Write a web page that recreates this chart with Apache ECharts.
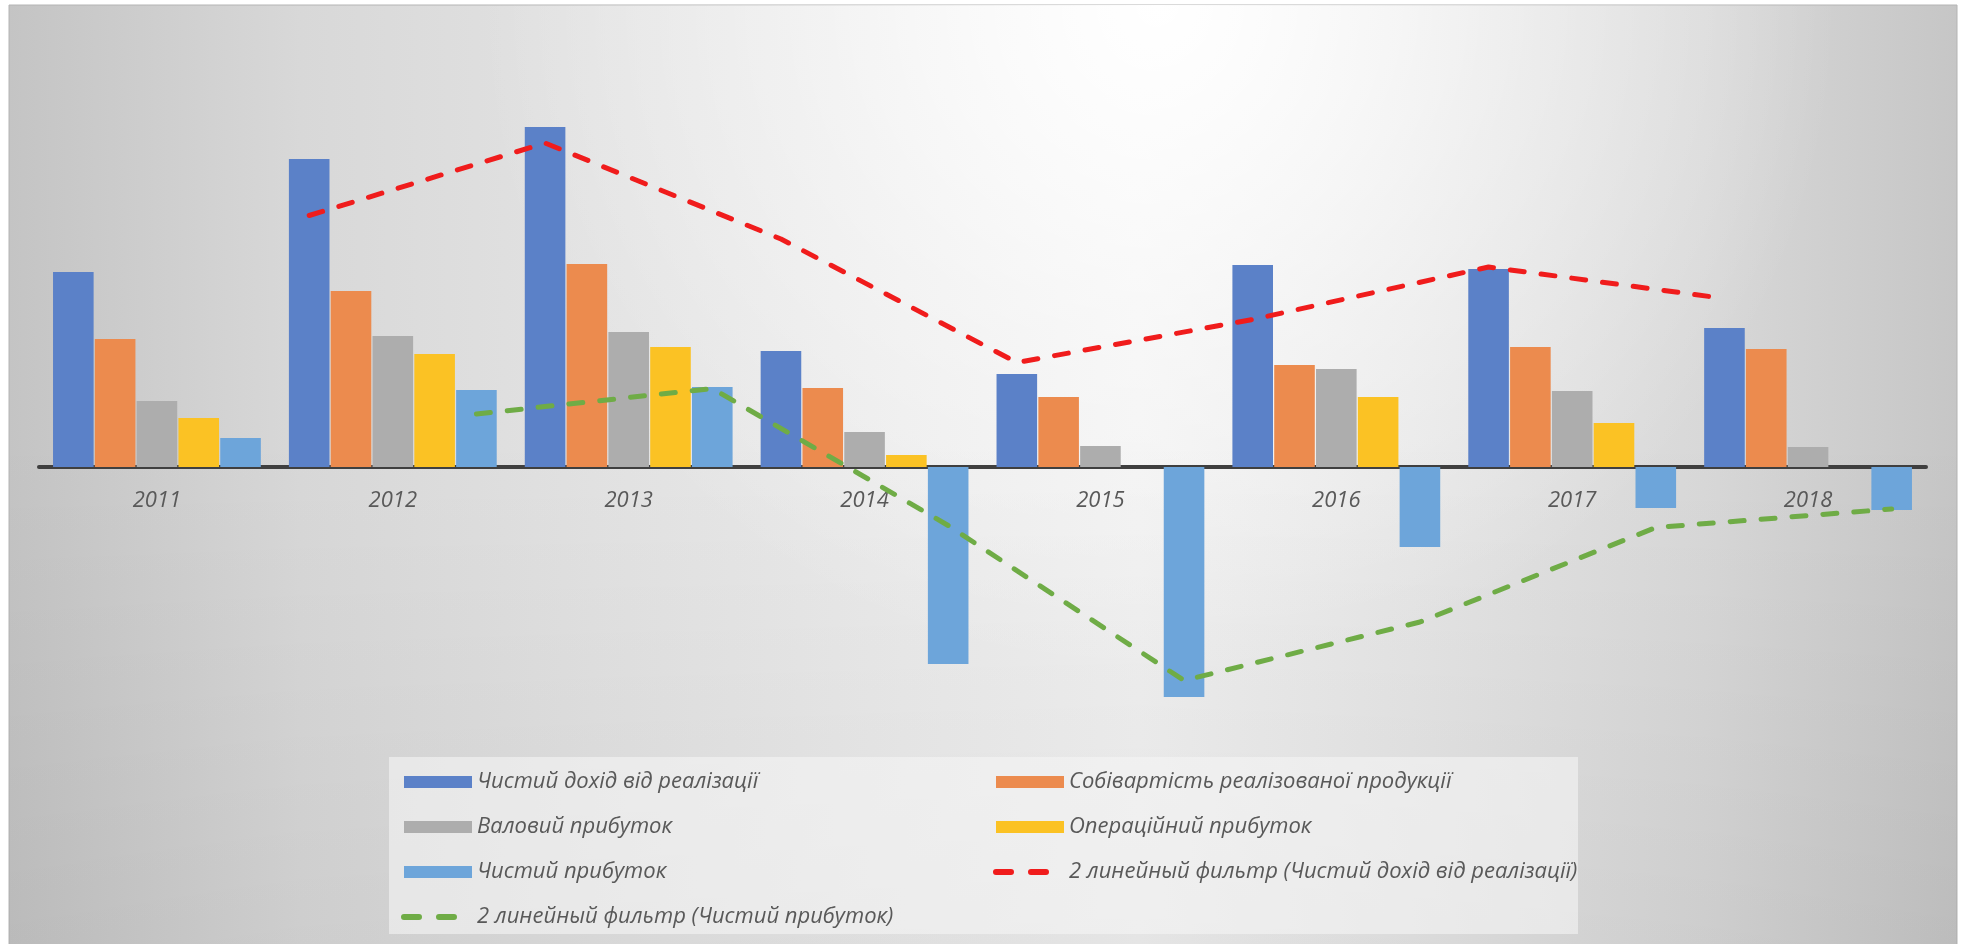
<!DOCTYPE html>
<html>
<head>
<meta charset="utf-8">
<script src="https://cdn.jsdelivr.net/npm/echarts@6/dist/echarts.min.js"></script>
<style>
  html, body { margin: 0; padding: 0; background: #fff; }
  #chart { width: 1961px; height: 944px; }
</style>
</head>
<body>
<div id="chart"></div>
<script>
// Data (arbitrary units, zero at the axis line)
const years = ['2011', '2012', '2013', '2014', '2015', '2016', '2017', '2018'];
const netRevenue = [195, 308, 340, 116, 93, 202, 198, 139];
const costOfSales = [128, 176, 203, 79, 70, 102, 120, 118];
const grossProfit = [66, 131, 135, 35, 21, 98, 76, 20];
const operatingProfit = [49, 113, 120, 12, 0, 70, 44, 0];
const netProfit = [29, 77, 80, -197, -230, -80, -41, -43];
// 2-period moving average trendlines
const revenueFilter = [null, 251.5, 324, 228, 104.5, 147.5, 200, 168.5];
const profitFilter = [null, 53, 78.5, -58.5, -213.5, -155, -60.5, -42];

const names = {
  revenue: 'Чистий дохід від реалізації',
  cost: 'Собівартість реалізованої продукції',
  gross: 'Валовий прибуток',
  operating: 'Операційний прибуток',
  net: 'Чистий прибуток',
  revFilter: '2 линейный фильтр (Чистий дохід від реалізації)',
  netFilter: '2 линейный фильтр (Чистий прибуток)'
};

const colors = ['#5b81c8', '#ec8b4e', '#adadad', '#fbc224', '#6da5da'];
const textColor = '#595959';
const font = 'Open Sans';

// trendline points sit over the first / last bar of each cluster
const catGap = 0.119;
const barGap = 0.03;
const barFrac = (1 - catGap) / (5 + 4 * barGap);
const firstBarCenter = catGap / 2 + barFrac / 2;
const lastBarCenter = catGap / 2 + barFrac * (4 * (1 + barGap) + 0.5);

function trendPoints(values, offset) {
  const pts = [];
  values.forEach((v, i) => {
    if (v !== null) pts.push([i + offset, v]);
  });
  return pts;
}

function barSeries(name, data, color) {
  return {
    name: name,
    type: 'bar',
    data: data,
    barGap: (barGap * 100) + '%',
    barCategoryGap: (catGap * 100).toFixed(1) + '%',
    itemStyle: { color: color }
  };
}

function lineSeries(name, points, color) {
  return {
    name: name,
    type: 'line',
    xAxisIndex: 1,
    data: points,
    symbol: 'none',
    z: 5,
    color: color,
    lineStyle: { color: color, width: 5, type: [14, 17], cap: 'round' }
  };
}

const legendText = { color: textColor, fontFamily: font, fontStyle: 'italic', fontSize: 22, lineHeight: 24 };
const legendDash = { type: [15, 20], width: 6, cap: 'round' };
const noSymbol = { opacity: 0 };

const frame = { x: 9, y: 5, width: 1948, height: 945 };

const chart = echarts.init(document.getElementById('chart'));
chart.setOption({
  animation: false,
  graphic: [
    {
      type: 'rect',
      z: 0,
      silent: true,
      shape: frame,
      style: {
        fill: new echarts.graphic.LinearGradient(0, 0, 1, 0, [
          { offset: 0, color: '#c4c4c4' },
          { offset: 0.15, color: '#d8d8d8' },
          { offset: 0.3, color: '#e2e2e2' },
          { offset: 0.46, color: '#ebebeb' },
          { offset: 0.58, color: '#f1f1f1' },
          { offset: 0.72, color: '#e6e6e6' },
          { offset: 0.87, color: '#d8d8d8' },
          { offset: 1, color: '#c6c6c6' }
        ]),
        stroke: '#b4b4b4',
        lineWidth: 1
      }
    },
    {
      type: 'rect',
      z: 0,
      silent: true,
      shape: frame,
      style: {
        fill: new echarts.graphic.RadialGradient(0.59, 0.0, 0.72, [
          { offset: 0, color: 'rgba(255,255,255,1)' },
          { offset: 0.5, color: 'rgba(255,255,255,0.45)' },
          { offset: 1, color: 'rgba(255,255,255,0)' }
        ])
      }
    },
    {
      type: 'rect',
      z: 0,
      silent: true,
      shape: frame,
      style: {
        fill: new echarts.graphic.LinearGradient(0, 0, 0, 1, [
          { offset: 0, color: 'rgba(0,0,0,0)' },
          { offset: 0.45, color: 'rgba(0,0,0,0)' },
          { offset: 1, color: 'rgba(0,0,0,0.05)' }
        ])
      }
    },
    {
      type: 'rect',
      z: 1,
      silent: true,
      shape: { x: 389, y: 757, width: 1189, height: 177 },
      style: { fill: 'rgba(245,245,245,0.6)' }
    }
  ],
  grid: { left: 39, right: 35, top: 100, height: 640 },
  xAxis: [
    {
      type: 'category',
      data: years,
      position: 'bottom',
      offset: -273,
      axisTick: { show: false },
      axisLine: { onZero: false, lineStyle: { color: '#3f3f3f', width: 4 } },
      axisLabel: { color: textColor, fontFamily: font, fontStyle: 'italic', fontSize: 22, lineHeight: 26, margin: 21 }
    },
    { type: 'value', min: 0, max: years.length, show: false }
  ],
  yAxis: {
    type: 'value',
    min: -273,
    max: 367,
    show: false,
    splitLine: { show: false }
  },
  legend: [
    {
      orient: 'vertical',
      left: 401,
      top: 770,
      padding: 0,
      itemWidth: 68,
      itemHeight: 12,
      itemGap: 21,
      textStyle: legendText,
      data: [
        { name: names.revenue, icon: 'rect' },
        { name: names.gross, icon: 'rect' },
        { name: names.net, icon: 'rect' },
        { name: names.netFilter, lineStyle: legendDash, itemStyle: noSymbol }
      ]
    },
    {
      orient: 'vertical',
      left: 993,
      top: 770,
      padding: 0,
      itemWidth: 68,
      itemHeight: 12,
      itemGap: 21,
      textStyle: legendText,
      data: [
        { name: names.cost, icon: 'rect' },
        { name: names.operating, icon: 'rect' },
        { name: names.revFilter, lineStyle: legendDash, itemStyle: noSymbol }
      ]
    }
  ],
  series: [
    barSeries(names.revenue, netRevenue, colors[0]),
    barSeries(names.cost, costOfSales, colors[1]),
    barSeries(names.gross, grossProfit, colors[2]),
    barSeries(names.operating, operatingProfit, colors[3]),
    barSeries(names.net, netProfit, colors[4]),
    lineSeries(names.revFilter, trendPoints(revenueFilter, firstBarCenter), '#f01c1c'),
    lineSeries(names.netFilter, trendPoints(profitFilter, lastBarCenter), '#6fac46')
  ]
});
</script>
</body>
</html>
